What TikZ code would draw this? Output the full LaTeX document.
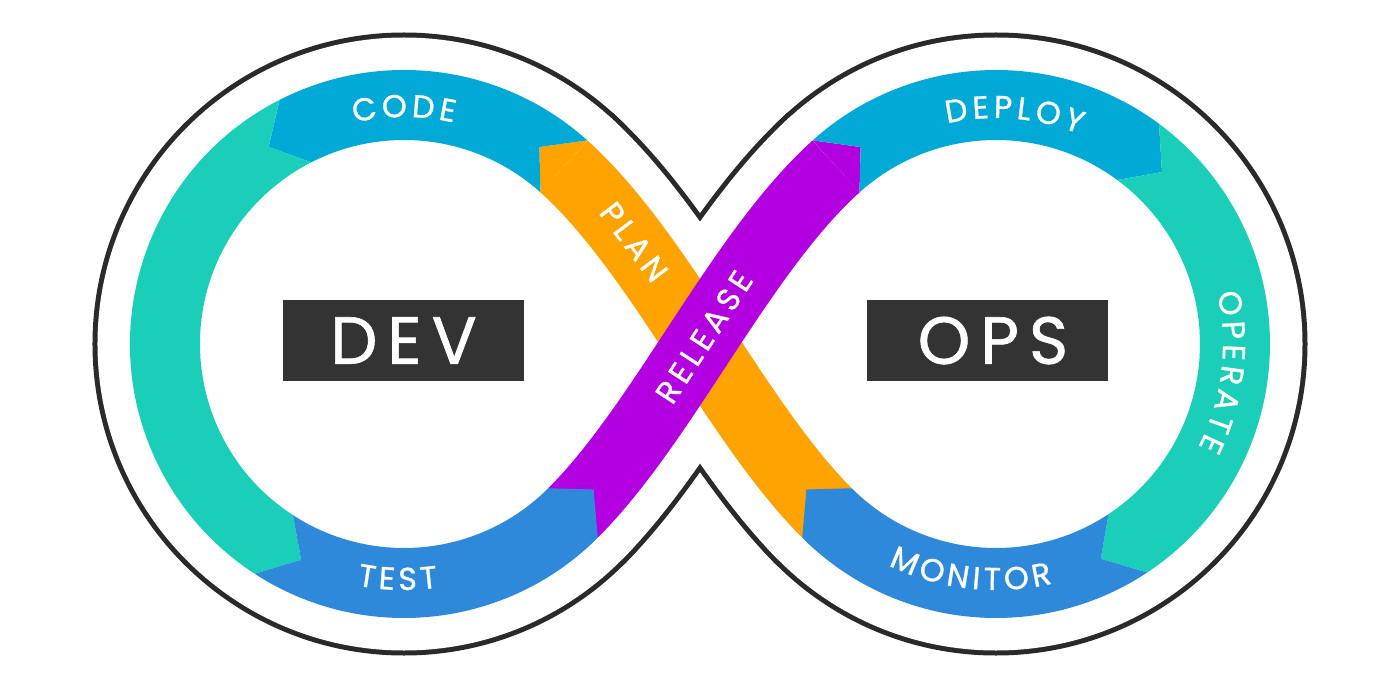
\documentclass[tikz,border=0pt]{standalone}
\usepackage{fontspec}
\setmainfont{Poppins}
\newfontfamily\labelfont{Poppins}[LetterSpace=15, FakeBold=0.9]
\newfontfamily\ringfamily{Poppins}[WordSpace=0.5, FakeBold=0.9]
\usetikzlibrary{calc, decorations.text}

\definecolor{codeblue}{HTML}{00A9D6}
\definecolor{testblue}{HTML}{2E89DB}
\definecolor{buildteal}{HTML}{1BCEBA}
\definecolor{planorange}{HTML}{FFA300}
\definecolor{releasepurple}{HTML}{B300E0}
\definecolor{boxgray}{HTML}{333333}
\definecolor{linegray}{HTML}{2A2A2A}

\newcommand{\ringout}{2.74}
\newcommand{\ringin}{2.04}
\newcommand{\ringmid}{2.39}
\newcommand{\ringfont}{\ringfamily\fontsize{9}{9}\selectfont}
\newcommand{\bandfont}{\labelfont\fontsize{9}{9}\selectfont}
\newcommand{\namefont}{\labelfont\fontsize{19}{19}\selectfont}

% one chevron piece of a ring: from angle, to angle, tip offset, colour
\newcommand{\ringseg}[4]{%
  \fill[#4] (#1:\ringout) arc[start angle=#1, end angle=#2, radius=\ringout]
    -- ({#2+(#3)}:\ringmid) -- (#2:\ringin)
    arc[start angle=#2, end angle=#1, radius=\ringin]
    -- ({#1+(#3)}:\ringmid) -- cycle;}

\newcommand{\planspine}{(-1.361,1.776) .. controls (-0.395,0.906) and (0.351,-0.771) .. (1.270,-1.690)}
\newcommand{\releasespine}{(-1.270,-1.690) .. controls (-0.351,-0.771) and (0.395,0.906) .. (1.361,1.776)}

\begin{document}
\begin{tikzpicture}[
    namebox/.style={rectangle, fill=boxgray, text=white, minimum width=2.41cm, minimum height=0.81cm, inner sep=0pt, font=\namefont},
    bandlabel/.style={text=white, inner sep=0pt, font=\bandfont},
    ringlabel/.style={decorate, decoration={text along path, text align=center, text={|\ringfont\color{white}|#1}}}
]
    \useasboundingbox (-7,-3.40) rectangle (7,3.44);
    \coordinate (devc) at (-2.96,0);
    \coordinate (opsc) at (2.96,0);

    % outline of the whole loop
    \fill[linegray] (devc) circle (3.115);
    \fill[linegray] (opsc) circle (3.115);
    \draw[linegray, line width=14.5mm] \planspine;
    \draw[linegray, line width=14.5mm] \releasespine;
    \fill[white] (devc) circle (3.065);
    \fill[white] (opsc) circle (3.065);
    \draw[white, line width=13.5mm] \planspine;
    \draw[white, line width=13.5mm] \releasespine;

    % the two crossing bands
    \draw[planorange, line width=7mm] \planspine;
    \begin{scope}[shift={(devc)}]
        \fill[planorange] (48:\ringout) -- (55.5:\ringmid) -- (48:\ringin) -- cycle;
    \end{scope}
    \draw[releasepurple, line width=7mm] \releasespine;
    \begin{scope}[shift={(opsc)}]
        \fill[releasepurple] (132:\ringout) -- (124.5:\ringmid) -- (132:\ringin) -- cycle;
    \end{scope}

    % dev ring
    \begin{scope}[shift={(devc)}]
        \ringseg{48}{117}{7.5}{codeblue}
        \ringseg{117}{237}{7.5}{buildteal}
        \ringseg{237}{315}{7.5}{testblue}
        \path[ringlabel=C O D E] (120:2.27) arc[start angle=120, end angle=60, radius=2.27];
        \path[ringlabel=T E S T] (238.5:2.46) arc[start angle=238.5, end angle=298.5, radius=2.46];
    \end{scope}

    % ops ring
    \begin{scope}[shift={(opsc)}]
        \ringseg{132}{53.5}{-7.5}{codeblue}
        \ringseg{53.5}{-56.5}{-7.5}{buildteal}
        \ringseg{-56.5}{-135}{-7.5}{testblue}
        \path[ringlabel=D E P L O Y] (115.4:2.26) arc[start angle=115.4, end angle=55.4, radius=2.26];
        \path[ringlabel=O P E R A T E] (28:2.27) arc[start angle=28, end angle=-42, radius=2.27];
        \path[ringlabel=M O N I T O R] (233.7:2.46) arc[start angle=233.7, end angle=293.7, radius=2.46];
    \end{scope}

    \node[bandlabel, rotate=-53] (plan) at (-0.66,1.02) {PLAN};
    \node[bandlabel, rotate=57] (release) at (0.04,0.07) {RELEASE};

    \node[namebox] (dev) at (-2.965,0.035) {DEV};
    \node[namebox] (ops) at (2.875,0.035) {\hspace*{0.11cm}OPS};
\end{tikzpicture}
\end{document}
